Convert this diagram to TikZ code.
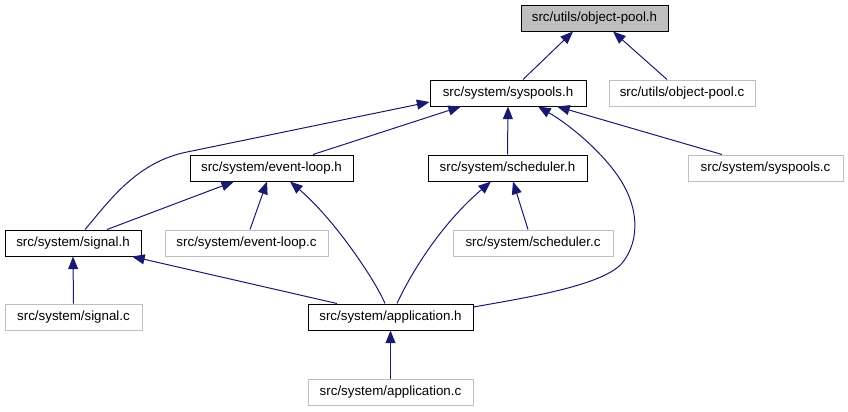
\documentclass[tikz,border=0pt]{standalone}
\usepackage{fontspec}
\setmainfont{Liberation Sans}
\usetikzlibrary{arrows.meta,calc}
\definecolor{edgeblue}{HTML}{191970}
\definecolor{greyline}{HTML}{BFBFBF}
\begin{document}
\begin{tikzpicture}[x=0.75pt,y=-0.75pt,
  filebox/.style={draw=black, line width=0.75pt, minimum height=26*0.75pt, inner sep=0pt, font=\fontsize{10}{12}\selectfont, text=black},
  hdrbox/.style={filebox},
  curbox/.style={filebox, fill=greyline},
  srcbox/.style={filebox, draw=greyline},
  edge/.style={draw=edgeblue, line width=0.75pt, -{Triangle[length=9.5pt,width=7.5pt]}},
]
\useasboundingbox (0,0) rectangle (848,411);
\node[curbox, minimum width=147*0.75pt] (oph) at (594.5,18) {src/utils/object-pool.h};
\node[hdrbox, minimum width=156*0.75pt] (sysh) at (508,93) {src/system/syspools.h};
\node[srcbox, minimum width=146*0.75pt] (opc) at (682,93) {src/utils/object-pool.c};
\node[hdrbox, minimum width=163*0.75pt] (elh) at (271.5,168) {src/system/event-loop.h};
\node[hdrbox, minimum width=159*0.75pt] (sch) at (507.5,168) {src/system/scheduler.h};
\node[srcbox, minimum width=155*0.75pt] (spc) at (765.5,168) {src/system/syspools.c};
\node[hdrbox, minimum width=136*0.75pt] (sigh) at (73,243) {src/system/signal.h};
\node[srcbox, minimum width=163*0.75pt] (elc) at (246.5,243) {src/system/event-loop.c};
\node[srcbox, minimum width=160*0.75pt] (scc) at (533,243) {src/system/scheduler.c};
\node[srcbox, minimum width=137*0.75pt] (sigc) at (73.5,317) {src/system/signal.c};
\node[hdrbox, minimum width=165*0.75pt] (apph) at (390.5,317) {src/system/application.h};
\node[srcbox, minimum width=165*0.75pt] (appc) at (390.5,392) {src/system/application.c};

% edges (child -> parent)
\draw[edge] ($(sysh.north)+(15,0)$) -- ($(oph.south)+(-21.5,0)$);
\draw[edge] ($(opc.north)+(-15,0)$) -- ($(oph.south)+(18.5,0)$);
\draw[edge] ($(elh.north)+(41.5,0)$) -- ($(sysh.south)+(-47,0)$);
\draw[edge] ($(sigh.north)+(12,0)$) .. controls (110,200) and (137,162) .. (187,152) -- ($(sysh.west)+(0,9)$);
\draw[edge] (sch.north) -- (sysh.south);
\draw[edge] ($(apph.east)+(0,-10)$) .. controls (530,297) and (605,285) .. (623,262) .. controls (640,240) and (640,205) .. (615,172) .. controls (595,145) and (565,122) .. ($(sysh.south)+(30,0)$);
\draw[edge] ($(spc.north)+(-43.5,0)$) -- ($(sysh.south)+(49,0)$);
\draw[edge] ($(sigh.north)+(34,0)$) -- ($(elh.south)+(-37.5,0)$);
\draw[edge] ($(elc.north)+(3.5,0)$) -- ($(elh.south)+(-4.5,0)$);
\draw[edge] ($(apph.north)+(-5.5,0)$) .. controls (375,280) and (335,220) .. ($(elh.south)+(18.5,0)$);
\draw[edge] ($(apph.north)+(6.5,0)$) .. controls (410,275) and (440,225) .. ($(sch.south)+(-16.5,0)$);
\draw[edge] ($(scc.north)+(-5,0)$) -- ($(sch.south)+(5.5,0)$);
\draw[edge] (sigc.north) -- (sigh.south);
\draw[edge] ($(apph.north)+(-53.5,0)$) -- ($(sigh.south)+(59,0)$);
\draw[edge] (appc.north) -- (apph.south);
\end{tikzpicture}
\end{document}
